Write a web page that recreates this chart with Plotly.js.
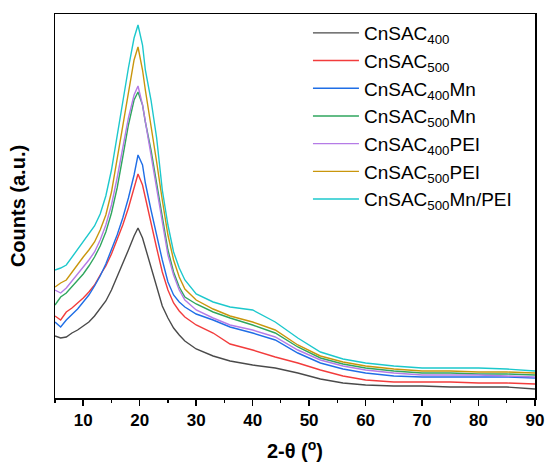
<!DOCTYPE html>
<html>
<head>
<meta charset="utf-8">
<script src="https://cdn.plot.ly/plotly-3.0.1.min.js"></script>
<style>html,body{margin:0;padding:0;background:#fff;}#chart{width:550px;height:467px;}</style>
</head>
<body>
<div id="chart"></div>
<script>
const twoTheta = [5, 6, 7, 8, 9, 10, 11, 12, 13, 14, 15, 16, 17, 18, 19, 19.7, 20.5, 21, 22, 23, 24, 25, 26, 27, 28, 30, 33, 36, 40, 44, 48, 52, 56, 60, 65, 70, 75, 80, 85, 90];

const cnsac400 = [64, 62, 63, 67, 70, 74, 78, 84, 91, 99, 110, 123, 136, 150, 164, 172, 162, 152, 132, 112, 94, 82, 72, 65, 59, 51, 44, 39, 35, 32, 27, 21, 17, 15, 14, 14, 13, 13, 13, 11];
const cnsac500 = [84, 80, 88, 92, 97, 102, 108, 115, 125, 134, 146, 160, 175, 192, 212, 226, 215, 202, 178, 152, 128, 110, 97, 89, 83, 75, 67, 56, 50, 43, 37, 30, 24, 20, 18, 18, 18, 17, 17, 16];
const cnsac400Mn = [78, 73, 80, 85, 91, 98, 105, 114, 124, 136, 150, 165, 182, 202, 225, 245, 235, 217, 190, 164, 140, 118, 105, 98, 93, 86, 80, 73, 67, 60, 47, 37, 31, 27, 24, 23, 23, 23, 23, 22];
const cnsac500Mn = [95, 103, 107, 113, 119, 126, 134, 143, 154, 168, 187, 212, 243, 275, 300, 308, 295, 278, 250, 217, 185, 150, 128, 113, 103, 96, 88, 82, 75, 67, 53, 42, 36, 32, 29, 27, 27, 26, 26, 25];
const cnsac400PEI = [110, 107, 112, 119, 125, 132, 140, 148, 160, 175, 195, 222, 252, 282, 305, 314, 295, 278, 245, 210, 175, 145, 125, 110, 100, 90, 82, 75, 70, 63, 50, 40, 34, 30, 27, 25, 25, 25, 24, 23];
const cnsac500PEI = [113, 117, 120, 128, 135, 143, 150, 158, 170, 185, 208, 240, 275, 308, 340, 353, 330, 310, 275, 238, 200, 165, 140, 123, 111, 100, 91, 84, 78, 70, 55, 44, 38, 34, 31, 29, 29, 28, 28, 27];
const cnsac500MnPEI = [130, 132, 135, 143, 151, 159, 166, 174, 186, 204, 230, 265, 298, 332, 362, 375, 355, 330, 300, 262, 210, 175, 148, 132, 120, 106, 98, 93, 90, 78, 62, 48, 41, 37, 34, 32, 32, 32, 31, 29];

const seriesNames = ["CnSAC<sub>400</sub>", "CnSAC<sub>500</sub>", "CnSAC<sub>400</sub>Mn", "CnSAC<sub>500</sub>Mn", "CnSAC<sub>400</sub>PEI", "CnSAC<sub>500</sub>PEI", "CnSAC<sub>500</sub>Mn/PEI"];
const seriesValues = [cnsac400, cnsac500, cnsac400Mn, cnsac500Mn, cnsac400PEI, cnsac500PEI, cnsac500MnPEI];
const seriesColors = ["#4a4a4a", "#f23c3c", "#1f6ee6", "#2fa65e", "#b57be6", "#c9960c", "#1cc8cc"];
const xTicks = [10, 20, 30, 40, 50, 60, 70, 80, 90];

const traces = seriesValues.map((vals, i) => ({
  x: twoTheta,
  y: vals,
  type: "scatter",
  mode: "lines",
  name: seriesNames[i],
  line: {color: seriesColors[i], width: 1.4}
}));

const fontFam = "Arial, 'Liberation Sans', sans-serif";

const layout = {
  width: 550,
  height: 467,
  margin: {l: 55, r: 15, t: 14, b: 69},
  paper_bgcolor: "#ffffff",
  plot_bgcolor: "#ffffff",
  font: {family: fontFam, color: "#000"},
  showlegend: true,
  legend: {
    x: 0.527, y: 1.0, xanchor: "left", yanchor: "top",
    bgcolor: "rgba(0,0,0,0)",
    font: {family: fontFam, size: 19, color: "#000"},
    itemwidth: 46
  },
  xaxis: {
    range: [5, 90],
    tickvals: xTicks,
    ticktext: xTicks.map(String),
    ticks: "outside",
    ticklen: 6,
    tickwidth: 1.5,
    tickcolor: "#000",
    minor: {dtick: 5, tick0: 5, ticks: "outside", ticklen: 3, tickwidth: 1.2, tickcolor: "#000"},
    showline: true,
    linecolor: "#000",
    linewidth: 1.5,
    mirror: true,
    showgrid: false,
    zeroline: false,
    tickfont: {family: fontFam, size: 17, color: "#000", weight: "bold"},
    title: {text: "<b>2-θ (<sup>o</sup>)</b>", font: {family: fontFam, size: 20, color: "#000"}, standoff: 15}
  },
  yaxis: {
    range: [2, 386],
    showticklabels: false,
    ticks: "",
    showline: true,
    linecolor: "#000",
    linewidth: 1.5,
    mirror: true,
    showgrid: false,
    zeroline: false,
    title: {text: "<b>Counts (a.u.)</b>", font: {family: fontFam, size: 20, color: "#000"}, standoff: 22}
  }
};

Plotly.newPlot("chart", traces, layout, {displayModeBar: false, staticPlot: true});
</script>
</body>
</html>
